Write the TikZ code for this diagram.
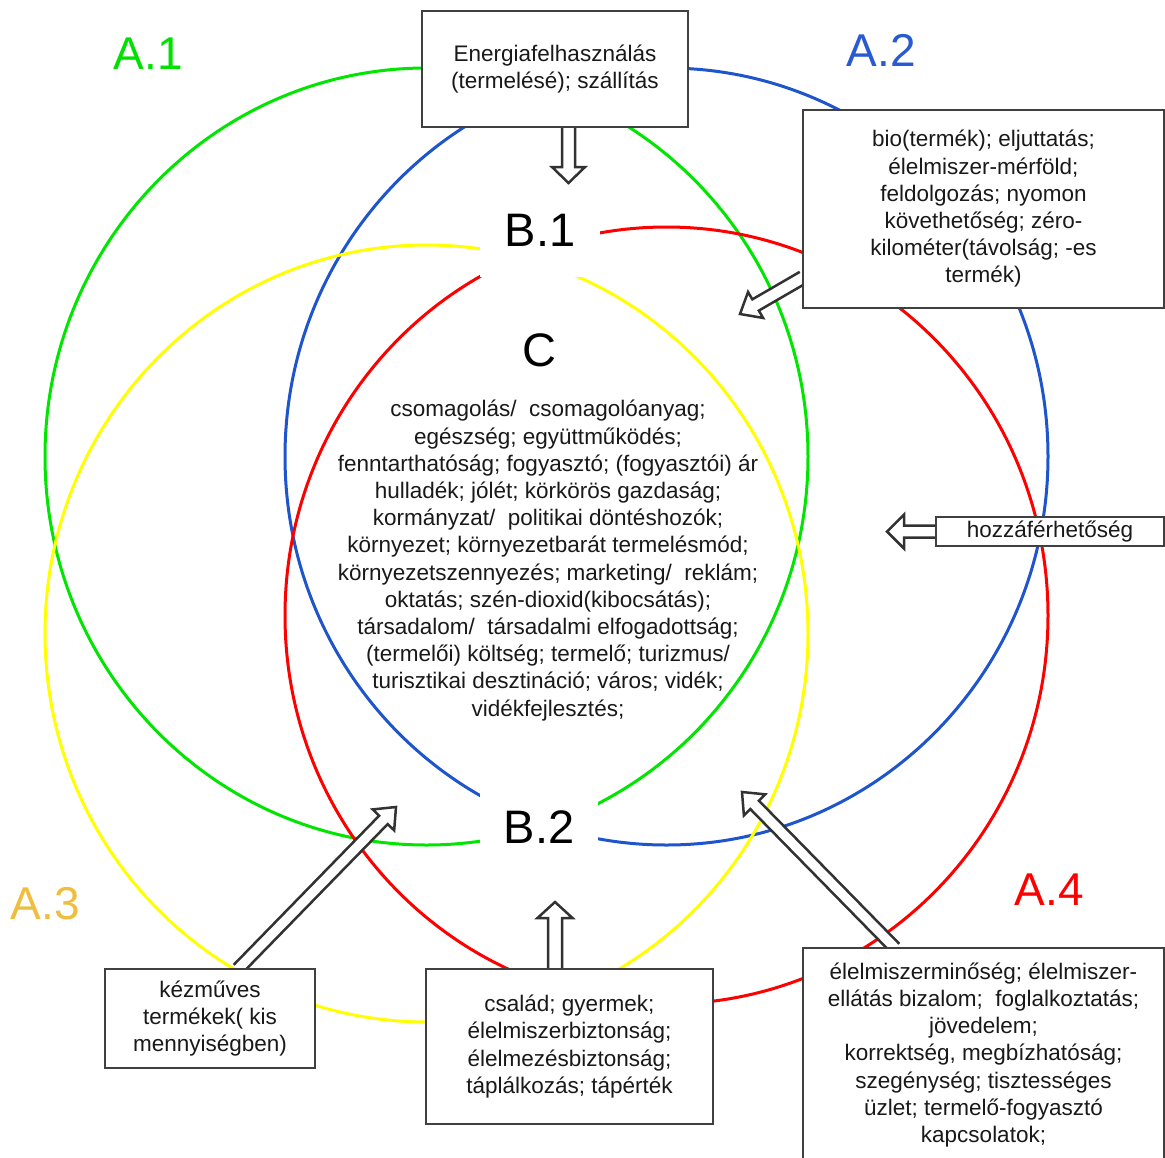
\documentclass[tikz,border=0pt]{standalone}
\usepackage{fontspec}
\setmainfont{Liberation Sans}
\usetikzlibrary{calc}
\definecolor{cgreen}{RGB}{0,230,0}
\definecolor{cblue}{RGB}{30,85,205}
\definecolor{cred}{RGB}{255,0,0}
\definecolor{cyellow}{RGB}{255,255,0}
\definecolor{lgreen}{RGB}{0,225,0}
\definecolor{lblue}{RGB}{40,90,210}
\definecolor{lorange}{RGB}{240,190,60}
\definecolor{lred}{RGB}{255,0,0}
\definecolor{boxgray}{RGB}{64,64,64}
\definecolor{arrowgray}{RGB}{50,50,50}
\definecolor{txt}{RGB}{25,25,25}
\tikzset{
  circ/.style={line width=3pt},
  box/.style={draw=boxgray, line width=2pt, fill=white, inner sep=0pt, align=center,
    font=\fontsize{22.5}{27.2}\selectfont, text=txt},
  bodytext/.style={inner sep=0pt, align=center, font=\fontsize{22.5}{27.2}\selectfont, text=txt},
  alabel/.style={font=\fontsize{46}{50}\selectfont, inner sep=0pt},
  blabel/.style={font=\fontsize{47}{50}\selectfont, inner sep=0pt, text=black},
  harrow/.style={draw=arrowgray, fill=white, line width=2.5pt, line join=miter},
}
% #1 start, #2 tip, #3 shaft half width, #4 head half width, #5 head length, #6 name for head base
\newcommand\hollowarrow[6]{%
  \coordinate (#6) at ($(#2)!#5!(#1)$);
  \draw[harrow] ($(#1)!#3!90:(#2)$) -- ($(#6)!#3!90:(#2)$) -- ($(#6)!#4!90:(#2)$) -- (#2)
    -- ($(#6)!#4!-90:(#2)$) -- ($(#6)!#3!-90:(#2)$) -- ($(#1)!#3!-90:(#2)$);
}
\begin{document}
\begin{tikzpicture}[x=1pt, y=-1pt]
\fill[white] (0,0) rectangle (1165,1157);
\useasboundingbox (0,0) rectangle (1165,1157);

% circles
\draw[circ, cgreen]  (426.5,456.5) ellipse [x radius=381.5pt, y radius=388.5pt];
\draw[circ, cblue]   (666.5,456.5) ellipse [x radius=381.5pt, y radius=388.5pt];
\draw[circ, cyellow] (426.5,633.5) ellipse [x radius=381.5pt, y radius=388.5pt];
\draw[circ, cred]    (666.5,615.5) ellipse [x radius=381.5pt, y radius=388.5pt];

% labels
\node[alabel, text=lgreen]  (a1) at (148.5,54) {A.1};
\node[alabel, text=lblue]   (a2) at (881.5,50) {A.2};
\node[alabel, text=lorange] (a3) at (45.5,903.5) {A.3};
\node[alabel, text=lred]    (a4) at (1049.5,889.5) {A.4};

\node[blabel, fill=white, minimum width=120pt, minimum height=93pt] (b1) at (540,230.5) {B.1};
\node[blabel, fill=white, minimum width=118pt, minimum height=93pt] (b2) at (539,827) {B.2};
\node[blabel] (c) at (539,350) {C};

\node[bodytext] (ctext) at (548,560.5) {csomagolás/\ \ csomagolóanyag;\\
egészség; együttműködés;\\
fenntarthatóság; fogyasztó; (fogyasztói) ár\\
hulladék; jólét; körkörös gazdaság;\\
kormányzat/\ \ politikai döntéshozók;\\
környezet; környezetbarát termelésmód;\\
környezetszennyezés; marketing/\ \ reklám;\\
oktatás; szén-dioxid(kibocsátás);\\
társadalom/\ \ társadalmi elfogadottság;\\
(termelői) költség; termelő; turizmus/\\
turisztikai desztináció; város; vidék;\\
vidékfejlesztés;};

% box centres (boxes drawn later, over the arrow starts)
\path (555,69) coordinate (pEn);
\path (983.5,209) coordinate (pBio);
\path (1050,531.5) coordinate (pHoz);
\path (210,1018.5) coordinate (pKez);
\path (569.5,1046.5) coordinate (pCsa);
\path (983.5,1055) coordinate (pEl);

% arrow tips
\coordinate (tEn)  at (568.5,183);
\coordinate (tBio) at (740,314);
\coordinate (tHoz) at (887,531.5);
\coordinate (tKez) at (396,807);
\coordinate (tCsa) at (555,902);
\coordinate (tEl)  at (742,792);

% arrow starts on box edges
\coordinate (sEn)  at ($(pEn)+(13.5,58)$);
\coordinate (sBio) at ($(pBio)+(-180.5,68.5)$);
\coordinate (sHoz) at ($(pHoz)+(-114,0)$);
\coordinate (sKez) at ($(pKez)+(28,-49.5)$);
\coordinate (sCsa) at ($(pCsa)+(-14.5,-77.5)$);
\coordinate (sEl)  at ($(pEl)+(-88.5,-107)$);

\hollowarrow{sEn}{tEn}{6.5pt}{16.5pt}{16pt}{hEn}
\hollowarrow{sBio}{tBio}{6.5pt}{15pt}{18pt}{hBio}
\hollowarrow{sHoz}{tHoz}{6pt}{17pt}{17pt}{hHoz}
\hollowarrow{sKez}{tKez}{6pt}{15pt}{18pt}{hKez}
\hollowarrow{sCsa}{tCsa}{7pt}{17.5pt}{16pt}{hCsa}
\hollowarrow{sEl}{tEl}{6pt}{15pt}{18pt}{hEl}

\node[box, minimum width=266pt, minimum height=116pt] (energia) at (pEn)
  {Energiafelhasználás\\(termelésé); szállítás};
\node[box, minimum width=361pt, minimum height=198pt] (bio) at (pBio)
  {bio(termék); eljuttatás;\\élelmiszer-mérföld;\\feldolgozás; nyomon\\követhetőség; zéro-\\kilométer(távolság; -es\\termék)};
\node[box, minimum width=228pt, minimum height=29pt] (hoz) at (pHoz) {hozzáférhetőség};
\node[box, minimum width=210pt, minimum height=99pt] (kez) at (pKez)
  {kézműves\\termékek( kis\\mennyiségben)};
\node[box, minimum width=287pt, minimum height=155pt] (csa) at (pCsa)
  {család; gyermek;\\élelmiszerbiztonság;\\élelmezésbiztonság;\\táplálkozás; tápérték};
\node[box, minimum width=361pt, minimum height=214pt] (el) at (pEl)
  {élelmiszerminőség; élelmiszer-\\ellátás bizalom;\ \ foglalkoztatás;\\jövedelem;\\korrektség, megbízhatóság;\\szegénység; tisztességes\\üzlet; termelő-fogyasztó\\kapcsolatok;};
\end{tikzpicture}
\end{document}
